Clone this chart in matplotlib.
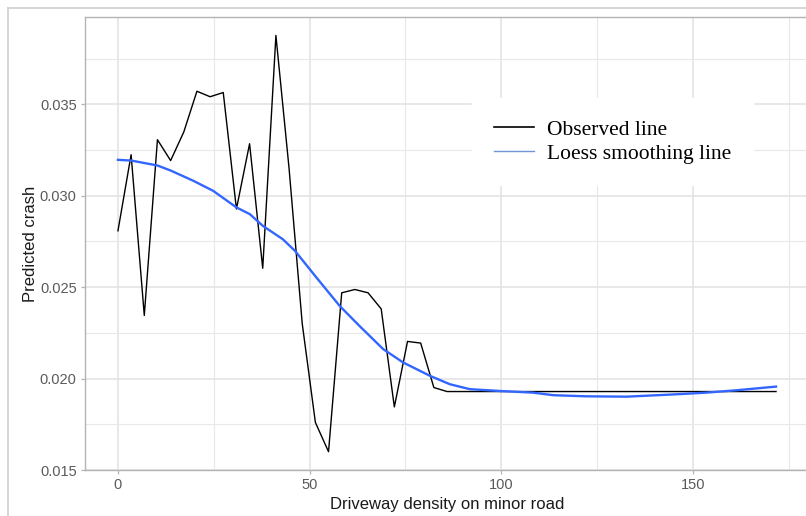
import numpy as np
import matplotlib.pyplot as plt
from matplotlib.lines import Line2D
from matplotlib.ticker import FormatStrFormatter

# observed predicted crash by driveway density
density = [0, 3.43, 6.87, 10.30, 13.74, 17.17, 20.60, 24.04, 27.47, 30.91,
           34.34, 37.77, 41.21, 44.64, 48.08, 51.51, 54.94, 58.38, 61.81,
           65.25, 68.68, 72.11, 75.55, 78.98, 82.42, 85.85, 171.7]
observed = [0.02808, 0.03224, 0.02345, 0.03306, 0.03192, 0.03348, 0.03571,
            0.03541, 0.03564, 0.02927, 0.03284, 0.02603, 0.03876, 0.03150,
            0.02300, 0.01760, 0.01600, 0.02469, 0.02487, 0.02469, 0.02381,
            0.01845, 0.02203, 0.02194, 0.01951, 0.01929, 0.01929]

# loess fit
smooth_x = [0, 3.5, 10.3, 13.8, 19.6, 24.8, 30.9, 34.4, 37.8, 43.0, 46.2,
            51.8, 57.9, 63.1, 69.2, 74.4, 81.4, 86.6, 91.8, 99.7, 108.3,
            113.6, 122.0, 132.7, 145.7, 153.5, 161.4, 171.7]
smooth_y = [0.03196, 0.03192, 0.03165, 0.03137, 0.03082, 0.03027, 0.02936,
            0.02899, 0.02835, 0.02762, 0.02698, 0.02552, 0.02396, 0.02286,
            0.02161, 0.02088, 0.02015, 0.01969, 0.01942, 0.01932, 0.01923,
            0.01909, 0.01903, 0.01901, 0.01914, 0.01923, 0.01936, 0.01956]

W, H = 806, 516
fig = plt.figure(figsize=(W / 100, H / 100), dpi=100)

# outer frame (top and left edges only)
fig.add_artist(Line2D([8 / W, 8 / W], [0, 1 - 8 / H], color='#cfcfcf', lw=1.2))
fig.add_artist(Line2D([8 / W, 1], [1 - 8 / H, 1 - 8 / H], color='#cfcfcf', lw=1.2))

left, right, top, bottom = 85, 809, 17, 470
ax = fig.add_axes([left / W, 1 - bottom / H, (right - left) / W, (bottom - top) / H])

ax.plot(density, observed, color='black', lw=1.0, label='Observed line', zorder=3)
ax.plot(smooth_x, smooth_y, color='#3366FF', lw=1.7, label='Loess smoothing line', zorder=4)

ax.set_xlim(-8.6, 180.3)
ax.set_ylim(0.01500, 0.03977)
ax.set_xticks([0, 50, 100, 150])
ax.set_xticks([25, 75, 125, 175], minor=True)
ax.set_yticks([0.015, 0.020, 0.025, 0.030, 0.035])
ax.set_yticks([0.0175, 0.0225, 0.0275, 0.0325, 0.0375], minor=True)
ax.yaxis.set_major_formatter(FormatStrFormatter('%.3f'))

ax.grid(True, which='major', color='#e2e2e2', lw=1.1)
ax.grid(True, which='minor', color='#e8e8e8', lw=0.8)
ax.set_axisbelow(True)
for s in ax.spines.values():
    s.set_color('#b3b3b3')
    s.set_linewidth(1.0)

ax.tick_params(which='major', length=3, width=0.9, color='#b3b3b3', pad=3,
               labelsize=10.5, labelcolor='#5a5a5a')
ax.tick_params(which='minor', length=0)
for lab in ax.get_xticklabels() + ax.get_yticklabels():
    lab.set_family('Liberation Sans')

ax.set_xlabel('Driveway density on minor road', fontsize=12, family='Liberation Sans',
              color='#1a1a1a', labelpad=3)
ax.set_ylabel('Predicted crash', fontsize=12, family='Liberation Sans',
              color='#1a1a1a', labelpad=1)

leg = ax.legend(loc='upper left', bbox_to_anchor=(472 / W, 1 - 98 / H),
                bbox_transform=fig.transFigure, borderaxespad=0,
                prop={'family': 'Liberation Serif', 'size': 15.5},
                frameon=True, fancybox=False, handlelength=1.9,
                handletextpad=0.6, labelspacing=0.18, borderpad=1.0)
leg.get_frame().set_facecolor('white')
leg.get_frame().set_edgecolor('white')
leg.get_frame().set_alpha(1)
leg.get_lines()[1].set_linewidth(1.0)
leg.get_lines()[1].set_color('#6f95dd')
leg.get_lines()[0].set_linewidth(1.2)

fig.savefig('out.png', dpi=100)
